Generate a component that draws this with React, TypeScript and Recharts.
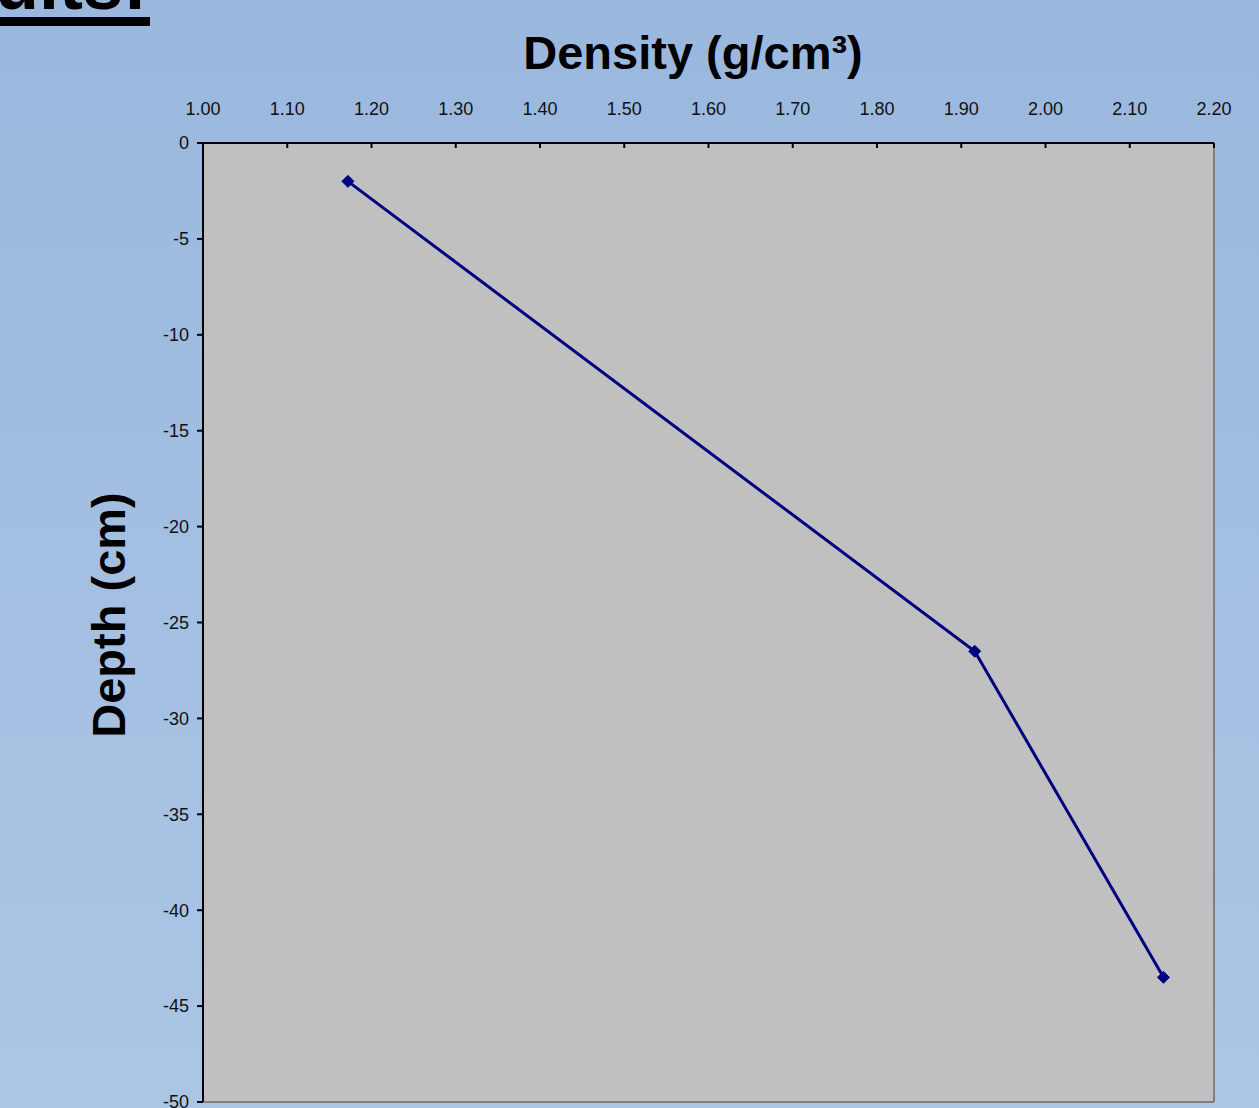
import React from 'react';
import {
  ScatterChart,
  Scatter,
  XAxis,
  YAxis,
  CartesianGrid,
  ReferenceLine,
} from 'recharts';

const densities = [1.172, 1.916, 2.14];
const depths = [-2, -26.5, -43.5];
const xTicks = [1.0, 1.1, 1.2, 1.3, 1.4, 1.5, 1.6, 1.7, 1.8, 1.9, 2.0, 2.1, 2.2];
const yTicks = [0, -5, -10, -15, -20, -25, -30, -35, -40, -45, -50];
const titleText = 'Density (g/cm\u00B3)';
const yLabelText = 'Depth (cm)';
const headingText = 'Results:';

const data = densities.map((d, i) => ({ density: d, depth: depths[i] }));

const FONT = '"Liberation Sans", Arial, Helvetica, sans-serif';

const Diamond = (props: any) => {
  const { cx, cy } = props;
  if (cx == null || cy == null) return null;
  const r = 6;
  return (
    <polygon
      points={`${cx},${cy - r} ${cx + r},${cy} ${cx},${cy + r} ${cx - r},${cy}`}
      fill="#000080"
      stroke="#000080"
      strokeWidth={1}
    />
  );
};

export default function App() {
  return (
    <div
      style={{
        position: 'absolute',
        left: 0,
        top: 0,
        width: 1259,
        height: 1108,
        overflow: 'hidden',
        background: 'linear-gradient(to bottom, #9ab8de, #abc5e4)',
      }}
    >
      <svg
        width={200}
        height={40}
        style={{ position: 'absolute', left: 0, top: 0 }}
      >
        <text
          x={147}
          y={9}
          textAnchor="end"
          fontSize={72}
          fontWeight="bold"
          fontFamily={FONT}
          fill="#000"
        >
          {headingText}
        </text>
        <rect x={0} y={17} width={150} height={9} fill="#000" />
      </svg>
      <div style={{ position: 'absolute', left: 0, top: 0 }}>
        <ScatterChart
          width={1259}
          height={1108}
          margin={{ top: 0, left: 0, right: 45, bottom: 6 }}
          style={{ fontFamily: FONT }}
        >
          <CartesianGrid
            horizontal={false}
            vertical={false}
            fill="#c0c0c0"
            stroke="none"
          />
          <ReferenceLine x={2.2} stroke="#808080" strokeWidth={2} />
          <ReferenceLine y={-50} stroke="#808080" strokeWidth={2} />
          <XAxis
            type="number"
            dataKey="density"
            orientation="top"
            domain={[1, 2.2]}
            ticks={xTicks}
            interval={0}
            tickFormatter={(v: number) => v.toFixed(2)}
            height={143}
            tickSize={-5}
            tickMargin={33}
            axisLine={{ stroke: '#000', strokeWidth: 2 }}
            tickLine={{ stroke: '#000', strokeWidth: 2 }}
            tick={{ fill: '#111', fontSize: 18, fontFamily: FONT }}
            label={{
              content: () => (
                <text
                  x={693}
                  y={69}
                  textAnchor="middle"
                  fontSize={47}
                  fontWeight="bold"
                  fontFamily={FONT}
                  fill="#000"
                >
                  {titleText}
                </text>
              ),
            }}
          />
          <YAxis
            type="number"
            dataKey="depth"
            domain={[-50, 0]}
            ticks={yTicks}
            interval={0}
            width={203}
            tickSize={6}
            tickMargin={8}
            axisLine={{ stroke: '#000', strokeWidth: 2 }}
            tickLine={{ stroke: '#000', strokeWidth: 2 }}
            tick={{ fill: '#111', fontSize: 18, fontFamily: FONT }}
            label={{
              content: () => (
                <text
                  x={125}
                  y={615}
                  transform="rotate(-90 125 615)"
                  textAnchor="middle"
                  fontSize={47}
                  fontWeight="bold"
                  fontFamily={FONT}
                  fill="#000"
                >
                  {yLabelText}
                </text>
              ),
            }}
          />
          <Scatter
            data={data}
            line={{ stroke: '#000080', strokeWidth: 3 }}
            lineType="joint"
            shape={<Diamond />}
            isAnimationActive={false}
          />
        </ScatterChart>
      </div>
    </div>
  );
}
